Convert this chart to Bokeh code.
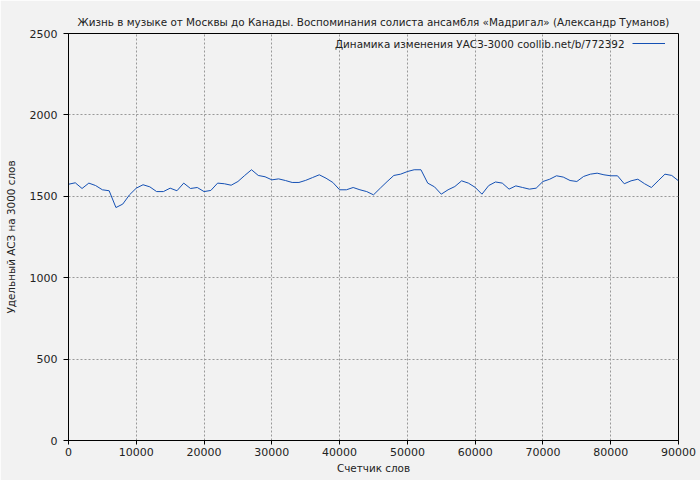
from bokeh.plotting import figure
from bokeh.models import (Range1d, SingleIntervalTicker, BasicTickFormatter, Label,
                          Legend, LegendItem, ColumnDataSource)
from bokeh.embed import file_html
from bokeh.resources import INLINE

TITLE = "Жизнь в музыке от Москвы до Канады. Воспоминания солиста ансамбля «Мадригал» (Александр Туманов)"
LEGEND_TEXT = "Динамика изменения УАСЗ-3000 coollib.net/b/772392"
X_LABEL = "Счетчик слов"
Y_LABEL = "Удельный АСЗ на 3000 слов"

words = list(range(0, 91000, 1000))
values = [1574, 1583, 1548, 1581, 1566, 1540, 1534, 1431, 1452, 1509,
          1550, 1571, 1558, 1529, 1529, 1550, 1534, 1581, 1548, 1554,
          1529, 1536, 1581, 1577, 1568, 1591, 1628, 1663, 1628, 1620,
          1601, 1607, 1597, 1585, 1585, 1598, 1615, 1632, 1611, 1585,
          1540, 1540, 1554, 1540, 1529, 1509, 1550, 1590, 1628, 1636,
          1652, 1663, 1663, 1581, 1558, 1513, 1540, 1560, 1595, 1581,
          1555, 1513, 1566, 1588, 1581, 1544, 1564, 1554, 1544, 1550,
          1591, 1605, 1626, 1618, 1597, 1591, 1622, 1636, 1642, 1632,
          1626, 1626, 1577, 1595, 1605, 1577, 1554, 1595, 1636, 1628,
          1595]

BG = "#f2f2f2"
FONT = "DejaVu Sans"
TXT = "10.4px"

p = figure(width=700, height=480, output_backend="svg", toolbar_location=None,
           x_range=Range1d(0, 90000), y_range=Range1d(0, 2500),
           min_border_left=68, min_border_right=22, min_border_top=33,
           min_border_bottom=40)
p.background_fill_color = BG
p.border_fill_color = BG
p.outline_line_color = "black"
p.outline_line_width = 1

p.title.text = TITLE
p.title.align = "center"
p.title.text_font = FONT
p.title.text_font_size = TXT
p.title.text_font_style = "normal"
p.title.text_color = "#222222"
p.title.vertical_align = "middle"

src = ColumnDataSource(dict(x=words, y=values))
r = p.line("x", "y", source=src, line_color="#1450b4", line_width=1)

p.xaxis.ticker = SingleIntervalTicker(interval=10000)
p.yaxis.ticker = SingleIntervalTicker(interval=500)
p.xaxis.formatter = BasicTickFormatter(use_scientific=False)
p.yaxis.formatter = BasicTickFormatter(use_scientific=False)
for ax in (p.xaxis, p.yaxis):
    ax.axis_line_color = "black"
    ax.major_tick_line_color = "black"
    ax.minor_tick_line_color = None
    ax.major_tick_in = 0
    ax.major_label_text_font = FONT
    ax.major_label_text_font_size = "11px"
    ax.major_label_text_color = "#222222"
    ax.axis_label_text_font = FONT
    ax.axis_label_text_font_size = TXT
    ax.axis_label_text_font_style = "normal"
    ax.axis_label_text_color = "#222222"
p.xaxis.major_tick_out = 4
p.yaxis.major_tick_out = 5
p.xaxis.axis_label = X_LABEL
p.yaxis.axis_label = Y_LABEL
p.xaxis.major_label_standoff = 3
p.yaxis.major_label_standoff = 6
p.xaxis.axis_label_standoff = 3
p.yaxis.axis_label_standoff = 10

p.grid.grid_line_color = "#999999"
p.grid.grid_line_dash = "2 2"
p.grid.grid_line_width = 1

lbl = Label(x=556, y=397, x_units="screen", y_units="screen", text=LEGEND_TEXT,
            text_font=FONT, text_font_size=TXT, text_color="#222222",
            text_align="right", text_baseline="middle")
p.add_layout(lbl)

leg = Legend(items=[LegendItem(label="", renderers=[r])], location=(564, 392),
             glyph_width=33, glyph_height=10, border_line_alpha=0,
             background_fill_alpha=0, padding=0, margin=0, label_width=0,
             label_standoff=0)
p.add_layout(leg)

open("out.html", "w").write(file_html(p, INLINE))
